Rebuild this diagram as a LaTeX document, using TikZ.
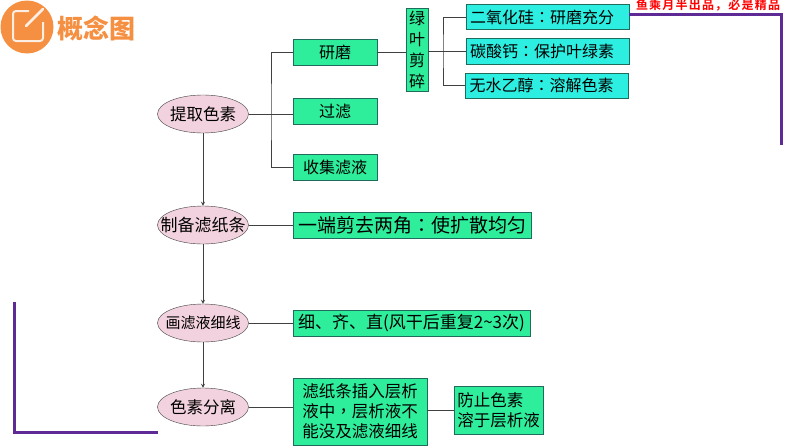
\documentclass[tikz,border=0pt]{standalone}
\usepackage{fontspec}
\setmainfont{Noto Sans CJK SC}
\newfontfamily\tcfont{Noto Sans CJK TC}
\newfontfamily\slogfont[LetterSpace=10]{Noto Sans CJK SC Bold}
\newcommand{\midpunct}[1]{{\tcfont #1}}
\usetikzlibrary{shapes.geometric}
\definecolor{mintbox}{HTML}{2EEE9C}
\definecolor{cyanbox}{HTML}{2CEFE2}
\definecolor{pinkoval}{HTML}{F2D2DE}
\definecolor{boxline}{HTML}{1F6B5C}
\definecolor{framepurple}{HTML}{5E2A96}
\definecolor{logoorange}{HTML}{F58F42}
\tikzset{
  oval/.style={draw=black!75,fill=pinkoval,ellipse,inner xsep=-12pt,inner ysep=0pt,minimum width=91pt,minimum height=38pt,font=\fontsize{16.5}{18}\selectfont},
  mintnode/.style={draw=boxline,fill=mintbox,inner sep=0pt,font=\fontsize{16}{20}\selectfont},
  cyannode/.style={draw=boxline,fill=cyanbox,inner xsep=4pt,inner ysep=0pt,text width=155pt,minimum height=25pt,font=\fontsize{16}{18}\selectfont},
  link/.style={draw=black!75,line width=0.8pt},
  frameline/.style={draw=framepurple,line width=3pt}
}
\begin{document}
\begin{tikzpicture}[x=1pt,y=-1pt,>=stealth]
   \useasboundingbox (0,0) rectangle (794,447);
   % logo
   \begin{scope}
    \fill[logoorange] (27,27) circle(26.5);
    \draw[white!85!logoorange,line width=2pt,rounded corners=3pt] (29,11) -- (13,11) -- (13,41) -- (43,41) -- (43,22);
    \draw[white!85!logoorange,line width=2.6pt,line cap=round] (26,26) -- (43,9);
    \node[text=logoorange,font=\fontsize{26}{26}\bfseries\selectfont] (logo) at (96,28) {概念图};
   \end{scope}
   % main column
   \node[oval] (tiqu) at (203,114) {提取色素};
   \node[oval,font=\fontsize{17}{18}\selectfont] (zhibei) at (203,225) {制备滤纸条};
   \node[oval,font=\fontsize{15}{18}\selectfont] (huaxian) at (203,323) {画滤液细线};
   \node[oval] (fenli) at (203,407) {色素分离};
   \draw[link,->] (tiqu) -- (zhibei);
   \draw[link,->] (zhibei) -- (huaxian);
   \draw[link,->] (huaxian) -- (fenli);
   % first branch
   \node[mintnode,minimum width=84pt,minimum height=26pt] (yanmo) at (335,52) {研磨};
   \node[mintnode,minimum width=84pt,minimum height=26pt] (guolv) at (335,111) {过滤};
   \node[mintnode,minimum width=84pt,minimum height=26pt] (shouji) at (335,167) {收集滤液};
   \coordinate (fork) at (271,114);
   \draw[link] (tiqu) -- (fork);
   \draw[link] (yanmo) -| (fork) |- (shouji);
   \draw[link] (fork) -- (guolv.west |- fork);
   % leaves
   \node[mintnode,minimum width=22pt,minimum height=83pt,align=center] (lvye) at (417,50) {绿\\[1pt]叶\\[1pt]剪\\[1pt]碎};
   \node[cyannode] (eryang) at (547.5,17) {二氧化硅\midpunct{：}研磨充分};
   \node[cyannode,minimum height=26pt] (tansuan) at (547.5,51) {碳酸钙\midpunct{：}保护叶绿素};
   \node[cyannode] (wushui) at (547,85.5) {无水乙醇\midpunct{：}溶解色素};
   \coordinate (leaffork) at (443,51);
   \draw[link] (yanmo) -- (lvye.west |- yanmo);
   \draw[link] (lvye.east |- leaffork) -- (tansuan.west |- leaffork);
   \draw[link] (eryang) -| (leaffork) |- (wushui);
   % remaining boxes
   \node[mintnode,font=\fontsize{19}{21}\selectfont,minimum width=238pt,minimum height=26pt] (jianjiao) at (412,225) {一端剪去两角\midpunct{：}使扩散均匀};
   \node[mintnode,font=\fontsize{17}{21}\selectfont,minimum width=237pt,minimum height=26pt] (xiqi) at (411.5,323) {细、齐、直(风干后重复2\textasciitilde 3次)};
   \node[mintnode,font=\fontsize{16.5}{20}\selectfont,minimum width=134pt,minimum height=67pt,align=left] (charu) at (360,411.5) {滤纸条插入层析\\液中\midpunct{，}层析液不\\能没及滤液细线};
   \node[mintnode,font=\fontsize{16.5}{20}\selectfont,minimum width=89pt,minimum height=48pt,align=left] (fangzhi) at (498.5,410) {防止色素\\溶于层析液};
   \draw[link] (zhibei) -- (jianjiao);
   \draw[link] (huaxian) -- (xiqi);
   \draw[link] (fenli) -- (fenli -| charu.west);
   \draw[link] (charu.east |- fangzhi) -- (fangzhi);
   % purple frame
   \coordinate (frameA) at (629,14);
   \coordinate (frameB) at (781,14);
   \coordinate (frameC) at (781,145);
   \coordinate (frameD) at (14,302);
   \coordinate (frameE) at (14,432);
   \coordinate (frameF) at (158,432);
   \draw[frameline] (frameA) -- (frameB) -- (frameC);
   \draw[frameline] (frameD) -- (frameE) -- (frameF);
   \node[text=red,font=\fontsize{12}{13}\slogfont] (slogan) at (708,5.5) {鱼乘月半出品，必是精品};
\end{tikzpicture}
\end{document}
